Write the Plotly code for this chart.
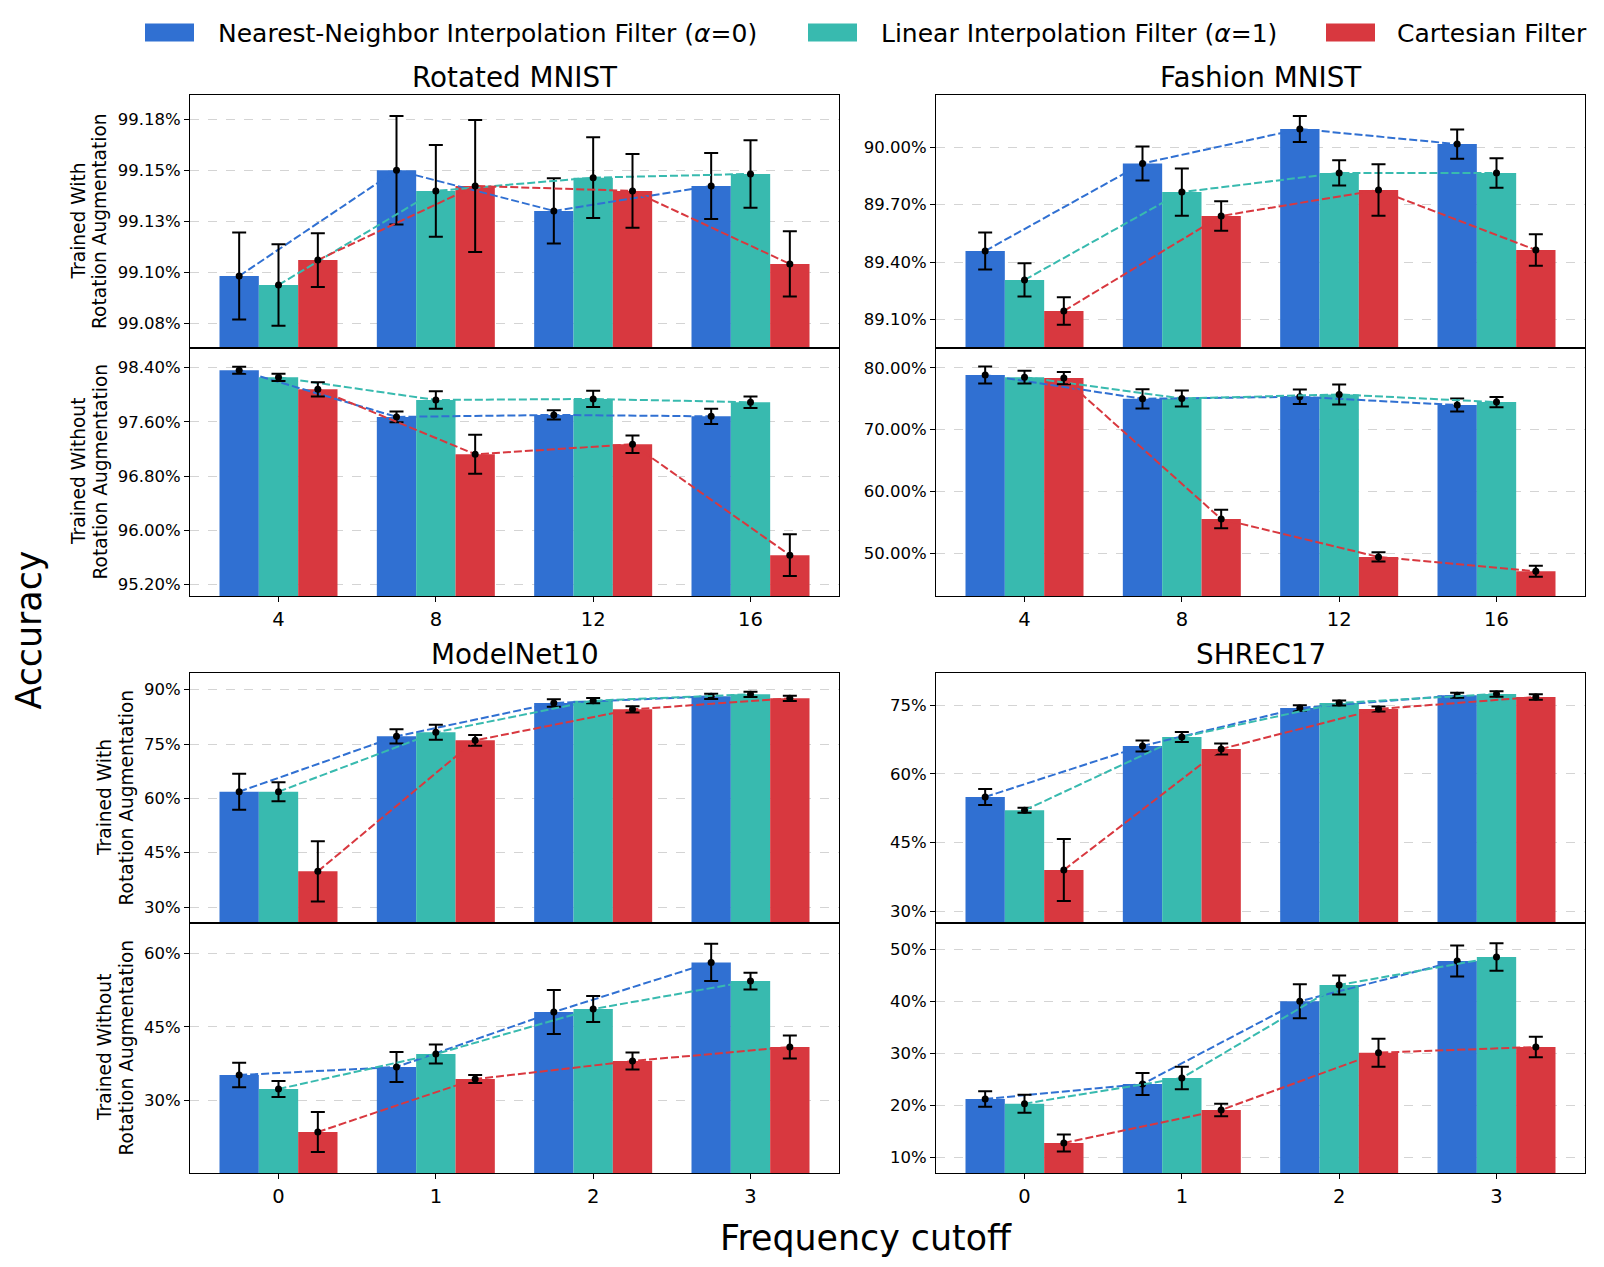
import plotly.graph_objects as go

# ---------------- data ----------------
series_names = ["Nearest-Neighbor Interpolation Filter (<i>α</i>=0)",
                "Linear Interpolation Filter (<i>α</i>=1)",
                "Cartesian Filter"]
dataset_titles = ["Rotated MNIST", "Fashion MNIST", "ModelNet10", "SHREC17"]
row_label_lines = [["Trained With", "Rotation Augmentation"],
                   ["Trained Without", "Rotation Augmentation"]]
x_labels_mnist = ["4", "8", "12", "16"]
x_labels_freq = ["0", "1", "2", "3"]

# Rotated MNIST
rot_with_nn = [99.0982, 99.1500, 99.1301, 99.1423]
rot_with_nn_err = [0.0213, 0.0266, 0.0160, 0.0162]
rot_with_lin = [99.0938, 99.1399, 99.1464, 99.1482]
rot_with_lin_err = [0.0200, 0.0225, 0.0198, 0.0165]
rot_with_cart = [99.1060, 99.1423, 99.1399, 99.1041]
rot_with_cart_err = [0.0132, 0.0324, 0.0181, 0.0160]

rot_without_nn = [98.361, 97.673, 97.702, 97.682]
rot_without_nn_err = [0.052, 0.079, 0.069, 0.113]
rot_without_lin = [98.257, 97.923, 97.938, 97.889]
rot_without_lin_err = [0.054, 0.128, 0.120, 0.086]
rot_without_cart = [98.080, 97.122, 97.269, 95.633]
rot_without_cart_err = [0.106, 0.288, 0.128, 0.307]

# Fashion MNIST
fash_with_nn = [89.458, 89.916, 90.096, 90.017]
fash_with_nn_err = [0.097, 0.089, 0.068, 0.077]
fash_with_lin = [89.306, 89.766, 89.866, 89.866]
fash_with_lin_err = [0.087, 0.124, 0.066, 0.077]
fash_with_cart = [89.144, 89.641, 89.777, 89.463]
fash_with_cart_err = [0.072, 0.077, 0.135, 0.082]

fash_without_nn = [78.82, 74.99, 75.31, 73.97]
fash_without_nn_err = [1.37, 1.56, 1.16, 1.05]
fash_without_lin = [78.49, 75.04, 75.69, 74.45]
fash_without_lin_err = [1.05, 1.29, 1.62, 0.83]
fash_without_cart = [78.33, 55.55, 49.41, 47.10]
fash_without_cart_err = [1.00, 1.48, 0.75, 0.90]

# ModelNet10
mn_with_nn = [61.84, 77.12, 86.32, 88.16]
mn_with_nn_err = [4.97, 1.98, 1.06, 0.74]
mn_with_lin = [61.84, 78.22, 86.96, 88.71]
mn_with_lin_err = [2.62, 2.07, 0.74, 0.74]
mn_with_cart = [39.85, 76.01, 84.57, 87.60]
mn_with_cart_err = [8.33, 1.47, 0.87, 0.74]

mn_without_nn = [35.17, 36.80, 48.03, 58.16]
mn_without_nn_err = [2.48, 3.06, 4.49, 3.78]
mn_without_lin = [32.31, 39.46, 48.64, 54.35]
mn_without_lin_err = [1.63, 1.94, 2.65, 1.70]
mn_without_cart = [23.54, 34.35, 38.03, 40.88]
mn_without_cart_err = [4.08, 0.82, 1.73, 2.35]

# SHREC17
sh_with_nn = [54.98, 66.12, 74.42, 77.18]
sh_with_nn_err = [1.75, 1.20, 0.58, 0.55]
sh_with_lin = [52.06, 68.08, 75.51, 77.48]
sh_with_lin_err = [0.55, 1.09, 0.55, 0.62]
sh_with_cart = [39.03, 65.46, 74.20, 76.82]
sh_with_cart_err = [6.77, 1.20, 0.55, 0.58]

sh_without_nn = [21.22, 24.10, 40.00, 47.76]
sh_without_nn_err = [1.47, 2.12, 3.27, 2.98]
sh_without_lin = [20.32, 25.26, 43.14, 48.53]
sh_without_lin_err = [1.73, 2.18, 1.83, 2.63]
sh_without_cart = [12.76, 19.10, 30.13, 31.22]
sh_without_cart_err = [1.63, 1.22, 2.69, 1.96]

# y tick values / labels
rot_with_ticks = [99.075, 99.100, 99.125, 99.150, 99.175]
rot_with_ticklabels = ["99.08%", "99.10%", "99.13%", "99.15%", "99.18%"]
rot_without_ticks = [95.2, 96.0, 96.8, 97.6, 98.4]
rot_without_ticklabels = ["95.20%", "96.00%", "96.80%", "97.60%", "98.40%"]
fash_with_ticks = [89.1, 89.4, 89.7, 90.0]
fash_with_ticklabels = ["89.10%", "89.40%", "89.70%", "90.00%"]
fash_without_ticks = [50, 60, 70, 80]
fash_without_ticklabels = ["50.00%", "60.00%", "70.00%", "80.00%"]
mn_with_ticks = [30, 45, 60, 75, 90]
mn_with_ticklabels = ["30%", "45%", "60%", "75%", "90%"]
mn_without_ticks = [30, 45, 60]
mn_without_ticklabels = ["30%", "45%", "60%"]
sh_with_ticks = [30, 45, 60, 75]
sh_with_ticklabels = ["30%", "45%", "60%", "75%"]
sh_without_ticks = [10, 20, 30, 40, 50]
sh_without_ticklabels = ["10%", "20%", "30%", "40%", "50%"]

# ---------------- styling / layout ----------------
COLORS = ["#3070D2", "#38BAAF", "#D8383F"]
OFFSETS = [-0.25, 0.0, 0.25]
BAR_W = 0.25
FONT = "DejaVu Sans"
PAGE_OFF = 8          # default body margin of the html page
W, H = 1588, 1251
ML = 190 - PAGE_OFF
MR = W - (1585 - PAGE_OFF)
MT = 95 - PAGE_OFF
MB = H - (1173 - PAGE_OFF)
PW, PH = W - ML - MR, H - MT - MB


def px_x(p):
    return (p - PAGE_OFF - ML) / PW


def px_y(p):
    return (H - MB - (p - PAGE_OFF)) / PH


col_domains = [[px_x(190), px_x(839)], [px_x(936), px_x(1585)]]
row_px = [(95, 348), (348, 596), (673, 923), (923, 1173)]
row_domains = [[px_y(b), px_y(t)] for t, b in row_px]

panels = [
    (0, 0, [rot_with_nn, rot_with_lin, rot_with_cart],
     [rot_with_nn_err, rot_with_lin_err, rot_with_cart_err],
     [99.0629, 99.1869], rot_with_ticks, rot_with_ticklabels, x_labels_mnist),
    (1, 0, [rot_without_nn, rot_without_lin, rot_without_cart],
     [rot_without_nn_err, rot_without_lin_err, rot_without_cart_err],
     [95.03, 98.69], rot_without_ticks, rot_without_ticklabels, x_labels_mnist),
    (0, 1, [fash_with_nn, fash_with_lin, fash_with_cart],
     [fash_with_nn_err, fash_with_lin_err, fash_with_cart_err],
     [88.95, 90.274], fash_with_ticks, fash_with_ticklabels, x_labels_mnist),
    (1, 1, [fash_without_nn, fash_without_lin, fash_without_cart],
     [fash_without_nn_err, fash_without_lin_err, fash_without_cart_err],
     [43.1, 83.2], fash_without_ticks, fash_without_ticklabels, x_labels_mnist),
    (2, 0, [mn_with_nn, mn_with_lin, mn_with_cart],
     [mn_with_nn_err, mn_with_lin_err, mn_with_cart_err],
     [25.6, 94.6], mn_with_ticks, mn_with_ticklabels, x_labels_freq),
    (3, 0, [mn_without_nn, mn_without_lin, mn_without_cart],
     [mn_without_nn_err, mn_without_lin_err, mn_without_cart_err],
     [15.17, 66.2], mn_without_ticks, mn_without_ticklabels, x_labels_freq),
    (2, 1, [sh_with_nn, sh_with_lin, sh_with_cart],
     [sh_with_nn_err, sh_with_lin_err, sh_with_cart_err],
     [27.45, 82.06], sh_with_ticks, sh_with_ticklabels, x_labels_freq),
    (3, 1, [sh_without_nn, sh_without_lin, sh_without_cart],
     [sh_without_nn_err, sh_without_lin_err, sh_without_cart_err],
     [6.99, 55.06], sh_without_ticks, sh_without_ticklabels, x_labels_freq),
]

fig = go.Figure()
layout_axes = {}

for idx, (row, col, series, errs, yrange, yticks, yticklabels, xlabels) in enumerate(panels):
    n = idx + 1
    xa, ya = f"x{n}", f"y{n}"
    cats = list(range(len(xlabels)))
    for s in range(3):
        xs = [c + OFFSETS[s] for c in cats]
        fig.add_trace(go.Bar(x=xs, y=series[s], width=BAR_W, marker_color=COLORS[s],
                             marker_line_width=0, xaxis=xa, yaxis=ya,
                             showlegend=False, name=series_names[s]))
    for s in range(3):
        xs = [c + OFFSETS[s] for c in cats]
        fig.add_trace(go.Scatter(
            x=xs, y=series[s], mode="lines+markers", xaxis=xa, yaxis=ya,
            line=dict(color=COLORS[s], width=2, dash="8px,3px"),
            marker=dict(color="black", size=7),
            error_y=dict(type="data", array=errs[s], color="black",
                         thickness=2, width=7),
            showlegend=False, name=series_names[s], cliponaxis=False))

    bottom_of_pair = row in (1, 3)
    layout_axes[f"xaxis{n}"] = dict(
        domain=col_domains[col], anchor=ya, range=[-0.5625, 3.5625],
        tickmode="array", tickvals=cats, ticktext=xlabels,
        showticklabels=bottom_of_pair, ticks="outside" if bottom_of_pair else "",
        ticklen=5, tickwidth=1.2, tickcolor="black",
        tickfont=dict(family=FONT, size=19.5, color="black"),
        showline=True, mirror=True, linecolor="black", linewidth=1.2,
        showgrid=False, zeroline=False, fixedrange=True)
    layout_axes[f"yaxis{n}"] = dict(
        domain=row_domains[row], anchor=xa, range=yrange,
        tickmode="array", tickvals=yticks, ticktext=yticklabels,
        ticks="outside", ticklen=5, tickwidth=1.2, tickcolor="black",
        tickfont=dict(family=FONT, size=16.5, color="black"),
        showline=True, mirror=True, linecolor="black", linewidth=1.2,
        showgrid=True, gridcolor="#d4d4d4", gridwidth=1, griddash="dash",
        zeroline=False, fixedrange=True)

annotations = []
# row labels (left column), two lines each
label_line_x = {0: (78, 99.5), 1: (78, 99.5), 2: (104, 125.5), 3: (104, 125.5)}
for row in range(4):
    t, b = row_px[row]
    cy = px_y((t + b) / 2)
    for li, txt in enumerate(row_label_lines[row % 2]):
        annotations.append(dict(text=txt, x=px_x(label_line_x[row][li]), y=cy,
                                textangle=-90, xref="paper", yref="paper",
                                xanchor="center", yanchor="middle", showarrow=False,
                                font=dict(family=FONT, size=18.6, color="black")))

title_pos = [(0, 77), (1, 77), (0, 654), (1, 654)]
for t, (c, ypx) in zip(dataset_titles, title_pos):
    cx = (col_domains[c][0] + col_domains[c][1]) / 2
    annotations.append(dict(text=t, x=cx, y=px_y(ypx), xref="paper", yref="paper",
                            xanchor="center", yanchor="middle", showarrow=False,
                            font=dict(family=FONT, size=27.8, color="black")))

annotations.append(dict(text="Frequency cutoff", x=px_x(866), y=px_y(1238),
                        xref="paper", yref="paper", xanchor="center", yanchor="middle",
                        showarrow=False, font=dict(family=FONT, size=34.8, color="black")))
annotations.append(dict(text="Accuracy", x=px_x(28.5), y=px_y(630), textangle=-90,
                        xref="paper", yref="paper", xanchor="center", yanchor="middle",
                        showarrow=False, font=dict(family=FONT, size=34.8, color="black")))

shapes = []
legend_items = [(145, 194, 216), (808, 857, 879), (1326, 1375, 1395)]
for s, (x0, x1, tx) in enumerate(legend_items):
    shapes.append(dict(type="rect", xref="paper", yref="paper",
                       x0=px_x(x0), x1=px_x(x1), y0=px_y(41.5), y1=px_y(23.5),
                       fillcolor=COLORS[s], line=dict(width=0)))
    annotations.append(dict(text=series_names[s], x=px_x(tx), y=px_y(33),
                            xref="paper", yref="paper", xanchor="left", yanchor="middle",
                            showarrow=False, font=dict(family=FONT, size=25, color="black")))

fig.update_layout(
    width=W, height=H,
    margin=dict(l=ML, r=MR, t=MT, b=MB, autoexpand=False),
    paper_bgcolor="white", plot_bgcolor="white",
    barmode="overlay", showlegend=False,
    font=dict(family=FONT, color="black"),
    annotations=annotations, shapes=shapes,
    **layout_axes)

fig.write_html("out.html")
